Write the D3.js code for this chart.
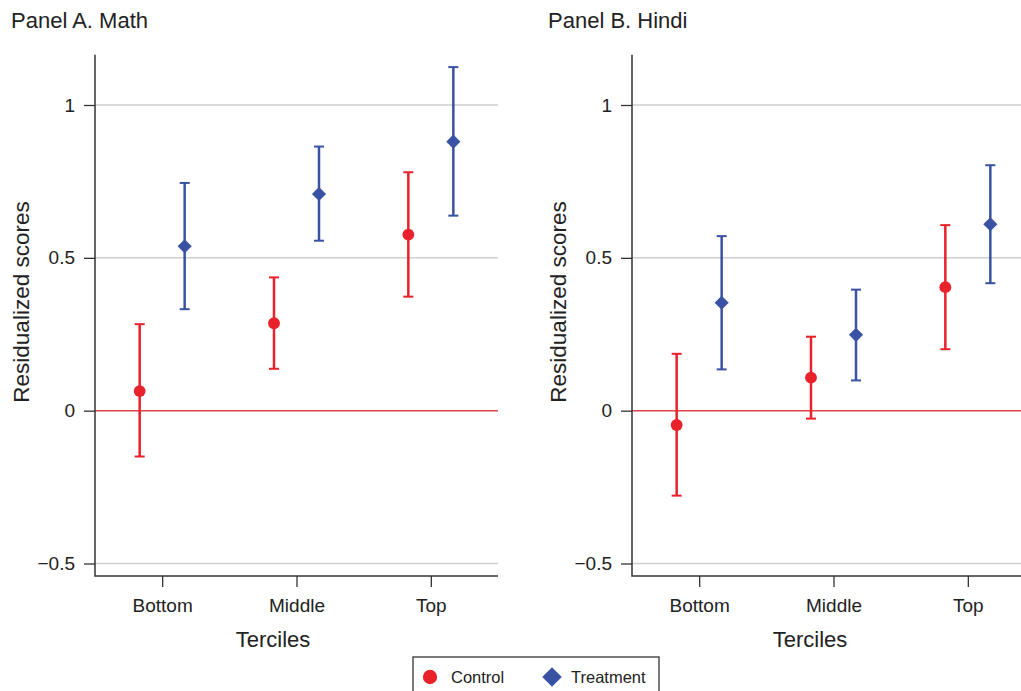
<!DOCTYPE html>
<html>
<head>
<meta charset="utf-8">
<script src="https://cdnjs.cloudflare.com/ajax/libs/d3/7.8.5/d3.min.js"></script>
<style>
  body { margin: 0; background: #fff; }
  svg { font-family: "Liberation Sans", Arial, Helvetica, sans-serif; }
</style>
</head>
<body>
<div id="chart"></div>
<script>
// data
var terciles = ["Bottom", "Middle", "Top"];
var yTicks = [-0.5, 0, 0.5, 1];

var mathControl     = [0.064, 0.286, 0.576];
var mathControlLo   = [-0.150, 0.137, 0.373];
var mathControlHi   = [0.283, 0.436, 0.780];
var mathTreatment   = [0.538, 0.709, 0.880];
var mathTreatmentLo = [0.332, 0.556, 0.638];
var mathTreatmentHi = [0.745, 0.864, 1.124];

var hindiControl     = [-0.047, 0.108, 0.404];
var hindiControlLo   = [-0.278, -0.026, 0.201];
var hindiControlHi   = [0.186, 0.242, 0.607];
var hindiTreatment   = [0.353, 0.248, 0.610];
var hindiTreatmentLo = [0.135, 0.099, 0.417];
var hindiTreatmentHi = [0.571, 0.396, 0.803];

var red = "#e8212b";
var blue = "#3a52a3";

var w = 1021;
var h = 691;

const svg = d3.select("#chart")
    .append("svg")
    .attr("width", w)
    .attr("height", h);

//SHARED Y SCALE
var y = d3.scaleLinear()
    .domain([-0.5, 1])
    .range([563.5, 105]);

var yTop = 1.164;
var yBottom = -0.541;

//DIAMOND = SQUARE TURNED 45 DEGREES
function marker(shape, size, cx, cy){
    let t = "translate(" + cx + "," + cy + ")";
    if(shape === "diamond"){
        return {d: d3.symbol().type(d3.symbolSquare).size(size)(), t: t + " rotate(45)"};
    }
    return {d: d3.symbol().type(d3.symbolCircle).size(size)(), t: t};
}

function drawPanel(left, title, control, controlLo, controlHi, treat, treatLo, treatHi){
    let g = svg.append("g");
    let plotW = 403;

    let x = d3.scalePoint()
        .domain(terciles)
        .range([left, left + plotW])
        .padding(0.5);

    //GRIDLINES
    g.selectAll(".grid")
        .data(yTicks)
        .enter()
        .append("line")
        .attr("x1", left)
        .attr("x2", left + plotW)
        .attr("y1", d => y(d))
        .attr("y2", d => y(d))
        .attr("stroke", d => d === 0 ? "#e0434b" : "#cfcfcf")
        .attr("stroke-width", 1.5);

    //Y AXIS
    let yAxis = g.append("g")
        .attr("transform", "translate(" + left + ",0)")
        .call(d3.axisLeft(y).tickValues(yTicks).tickSize(11).tickPadding(9).tickFormat(d3.format("")));
    yAxis.select(".domain").remove();
    yAxis.selectAll(".tick line").attr("stroke", "#333").attr("stroke-width", 1.3);
    yAxis.selectAll(".tick text")
        .style("font-size", "19px")
        .attr("fill", "#222");

    //X AXIS
    let xAxis = g.append("g")
        .attr("transform", "translate(0," + y(yBottom) + ")")
        .call(d3.axisBottom(x).tickSize(11).tickPadding(11));
    xAxis.select(".domain").remove();
    xAxis.selectAll(".tick line").attr("stroke", "#333").attr("stroke-width", 1.3);
    xAxis.selectAll(".tick text")
        .style("font-size", "19px")
        .attr("fill", "#222");

    //AXIS LINES
    g.append("path")
        .attr("d", "M" + left + "," + y(yTop) + "V" + y(yBottom) + "H" + (left + plotW))
        .attr("fill", "none")
        .attr("stroke", "#333")
        .attr("stroke-width", 1.5);

    //TITLES
    g.append("text")
        .attr("x", left - 84)
        .attr("y", 28)
        .style("font-size", "22px")
        .attr("fill", "#222")
        .text(title);

    g.append("text")
        .attr("transform", "translate(" + (left - 66) + "," + 302 + ") rotate(-90)")
        .attr("text-anchor", "middle")
        .style("font-size", "22.5px")
        .attr("fill", "#222")
        .text("Residualized scores");

    g.append("text")
        .attr("x", left + 178)
        .attr("y", 647)
        .attr("text-anchor", "middle")
        .style("font-size", "22px")
        .attr("fill", "#222")
        .text("Terciles");

    //ERROR BARS AND MARKERS
    let series = [
        {vals: control, lo: controlLo, hi: controlHi, color: red, dx: -22.5, shape: "circle", size: 110},
        {vals: treat, lo: treatLo, hi: treatHi, color: blue, dx: 22.5, shape: "diamond", size: 100}
    ];

    series.forEach(function(s){
        terciles.forEach(function(t, i){
            let cx = x(t) + s.dx;
            g.append("line")
                .attr("x1", cx).attr("x2", cx)
                .attr("y1", y(s.lo[i])).attr("y2", y(s.hi[i]))
                .attr("stroke", s.color).attr("stroke-width", 2.5);
            [s.lo[i], s.hi[i]].forEach(function(v){
                g.append("line")
                    .attr("x1", cx - 5).attr("x2", cx + 5)
                    .attr("y1", y(v)).attr("y2", y(v))
                    .attr("stroke", s.color).attr("stroke-width", 2);
            });
            let m = marker(s.shape, s.size, cx, y(s.vals[i]));
            g.append("path")
                .attr("d", m.d)
                .attr("transform", m.t)
                .attr("fill", s.color);
        });
    });
}

drawPanel(95, "Panel A. Math", mathControl, mathControlLo, mathControlHi, mathTreatment, mathTreatmentLo, mathTreatmentHi);
drawPanel(632, "Panel B. Hindi", hindiControl, hindiControlLo, hindiControlHi, hindiTreatment, hindiTreatmentLo, hindiTreatmentHi);

//LEGEND
let legend = svg.append("g");
legend.append("rect")
    .attr("x", 413)
    .attr("y", 657)
    .attr("width", 246)
    .attr("height", 40)
    .attr("fill", "#fff")
    .attr("stroke", "#333")
    .attr("stroke-width", 1.3);

let lc = marker("circle", 160, 430, 677);
legend.append("path")
    .attr("d", lc.d)
    .attr("transform", lc.t)
    .attr("fill", red);
legend.append("text")
    .attr("x", 451).attr("y", 683)
    .style("font-size", "16.5px").attr("fill", "#222")
    .text("Control");

let ld = marker("diamond", 190, 552, 677);
legend.append("path")
    .attr("d", ld.d)
    .attr("transform", ld.t)
    .attr("fill", blue);
legend.append("text")
    .attr("x", 571).attr("y", 683)
    .style("font-size", "16.5px").attr("fill", "#222")
    .text("Treatment");
</script>
</body>
</html>
